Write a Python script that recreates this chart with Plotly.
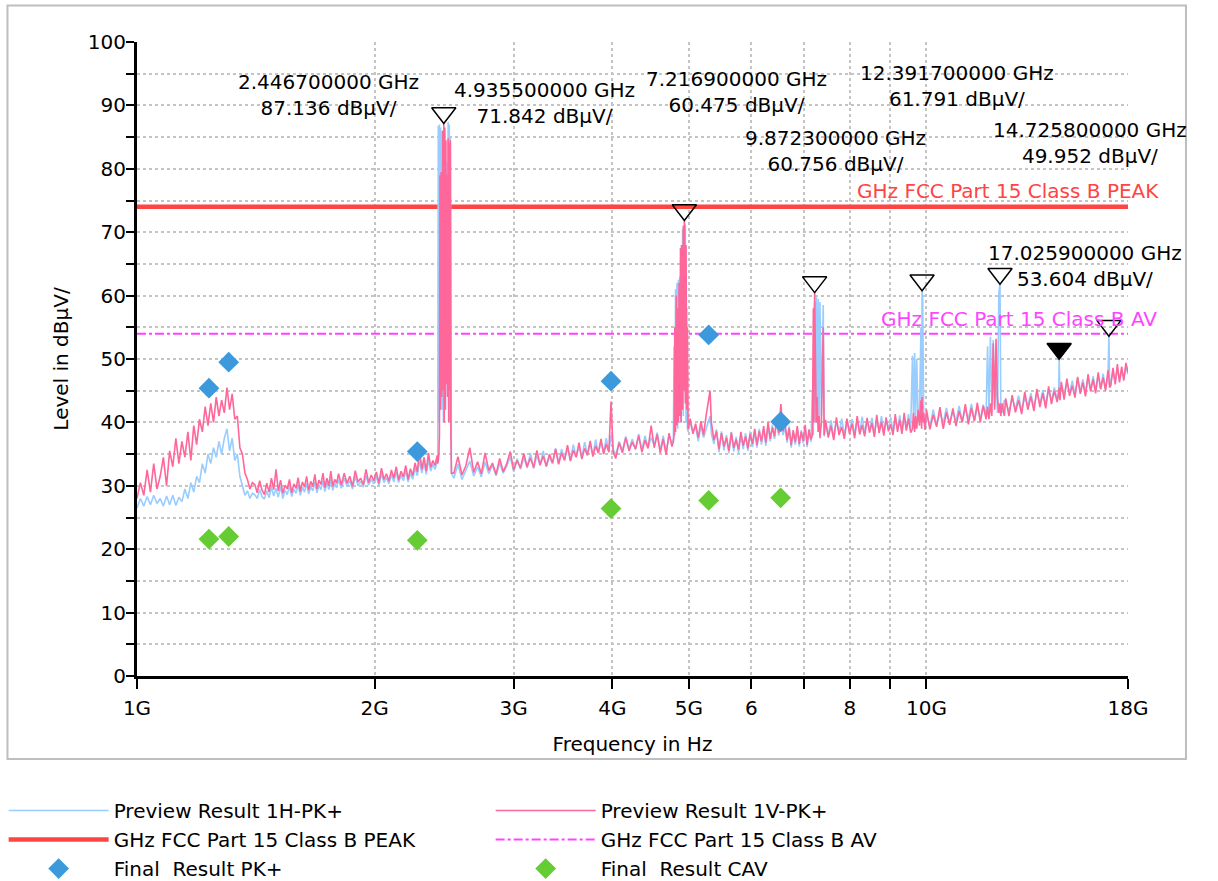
import numpy as np
import plotly.graph_objects as go

# ---------------- data ----------------
# shared sweep frequencies (GHz) for both preview traces
freq_ghz = [
    # A 1.00 - 1.40
    1.00, 1.01, 1.02, 1.03, 1.04, 1.05, 1.06, 1.07, 1.08, 1.09, 1.10, 1.11, 1.12, 1.13,
    1.14, 1.15, 1.16, 1.17, 1.18, 1.19, 1.20, 1.21, 1.22, 1.23, 1.24, 1.25, 1.26, 1.27,
    1.28, 1.29, 1.30, 1.31, 1.32, 1.33, 1.34, 1.35, 1.36, 1.37, 1.38, 1.39, 1.40,
    # B1 1.41 - 1.80
    1.41, 1.42, 1.43, 1.44, 1.45, 1.46, 1.47, 1.48, 1.49, 1.50,
    1.51, 1.52, 1.53, 1.54, 1.55, 1.56, 1.57, 1.58, 1.59, 1.60,
    1.61, 1.62, 1.63, 1.64, 1.65, 1.66, 1.67, 1.68, 1.69, 1.70,
    1.71, 1.72, 1.73, 1.74, 1.75, 1.76, 1.77, 1.78, 1.79, 1.80,
    # B2 1.815 - 2.40
    1.815, 1.830, 1.845, 1.860, 1.875, 1.890, 1.905, 1.920, 1.935, 1.950,
    1.965, 1.980, 1.995, 2.010, 2.025, 2.040, 2.055, 2.070, 2.085, 2.100,
    2.115, 2.130, 2.145, 2.160, 2.175, 2.190, 2.205, 2.220, 2.235, 2.250,
    2.265, 2.280, 2.295, 2.310, 2.325, 2.340, 2.355, 2.370, 2.385, 2.400,
    # P1 2.4 GHz carrier
    2.404, 2.408, 2.412, 2.416, 2.420, 2.424, 2.428, 2.432, 2.436, 2.440, 2.444, 2.4467,
    2.450, 2.454, 2.458, 2.462, 2.466, 2.470, 2.474, 2.478, 2.482, 2.486, 2.490, 2.494,
    2.498, 2.502,
    # C 2.52 - 4.01
    2.52, 2.55, 2.58, 2.61, 2.64, 2.67, 2.70, 2.73, 2.76, 2.79,
    2.82, 2.85, 2.88, 2.91, 2.94, 2.97, 3.00, 3.03, 3.06, 3.09,
    3.12, 3.15, 3.18, 3.21, 3.24, 3.27, 3.30, 3.33, 3.36, 3.39,
    3.42, 3.45, 3.48, 3.51, 3.54, 3.57, 3.60, 3.63, 3.66, 3.69,
    3.72, 3.75, 3.78, 3.81, 3.84, 3.87, 3.90, 3.93, 3.96, 3.985, 4.01,
    # D 4.04 - 4.76
    4.04, 4.08, 4.12, 4.16, 4.20, 4.24, 4.28, 4.32, 4.36, 4.40,
    4.44, 4.48, 4.52, 4.56, 4.60, 4.64, 4.68, 4.72, 4.76,
    # P2 2nd harmonic
    4.78, 4.79, 4.80, 4.81, 4.82, 4.83, 4.84, 4.85, 4.86, 4.87, 4.88, 4.89, 4.90, 4.91,
    4.92, 4.93, 4.9355, 4.94, 4.95, 4.96, 4.97, 4.98, 4.99,
    # E 5.02 - 7.14
    5.02, 5.06, 5.10, 5.14, 5.18, 5.22, 5.26, 5.32, 5.34, 5.38,
    5.42, 5.46, 5.50, 5.54, 5.58, 5.62, 5.66, 5.70, 5.74, 5.78,
    5.82, 5.86, 5.90, 5.94, 5.98, 6.02, 6.06, 6.10, 6.14, 6.18,
    6.22, 6.26, 6.30, 6.34, 6.38, 6.42, 6.46, 6.50, 6.54, 6.58,
    6.62, 6.66, 6.70, 6.74, 6.78, 6.82, 6.86, 6.90, 6.94, 6.98,
    7.02, 7.06, 7.10, 7.14,
    # P3 3rd harmonic
    7.17, 7.19, 7.20, 7.2169, 7.23, 7.25, 7.27, 7.29, 7.31, 7.33, 7.36, 7.40, 7.42,
    # F 7.45 - 9.55
    7.45, 7.51, 7.57, 7.63, 7.69, 7.75, 7.81, 7.87, 7.93, 7.99,
    8.05, 8.11, 8.17, 8.23, 8.29, 8.35, 8.41, 8.47, 8.53, 8.59,
    8.65, 8.71, 8.77, 8.83, 8.89, 8.95, 9.01, 9.07, 9.13, 9.19,
    9.25, 9.31, 9.37, 9.43, 9.49, 9.55,
    # P4 4th harmonic
    9.60, 9.63, 9.66, 9.69, 9.72, 9.76, 9.80, 9.84, 9.86, 9.8723, 9.89, 9.92, 9.96,
    # G 10.0 - 11.8
    10.0, 10.1, 10.2, 10.3, 10.4, 10.5, 10.6, 10.7, 10.8, 10.9,
    11.0, 11.1, 11.2, 11.3, 11.4, 11.5, 11.6, 11.7, 11.8,
    # P5 5th harmonic
    11.90, 11.95, 12.00, 12.05, 12.10, 12.15, 12.20, 12.25, 12.30, 12.35, 12.3917, 12.42,
    12.47, 12.55,
    # H 12.60 - 14.64
    12.60, 12.72, 12.84, 12.96, 13.08, 13.20, 13.32, 13.44, 13.56, 13.68,
    13.80, 13.92, 14.04, 14.16, 14.28, 14.40, 14.52, 14.64,
    # P6 6th harmonic
    14.70, 14.7258, 14.76,
    # I 14.82 - 16.98
    14.82, 14.94, 15.06, 15.18, 15.30, 15.42, 15.54, 15.66, 15.78, 15.90,
    16.02, 16.14, 16.26, 16.38, 16.50, 16.62, 16.74, 16.86, 16.98,
    # P7 7th harmonic
    17.0259, 17.06,
    # J 17.12 - 18.00
    17.12, 17.23, 17.34, 17.45, 17.56, 17.67, 17.78, 17.89, 18.00,
]

# Preview Result 1H-PK+ (dBuV)
level_h = [
    # A
    26.5, 28.0, 26.8, 28.3, 27.0, 28.5, 27.2, 28.0, 26.8, 28.4, 27.0, 28.5, 26.9, 28.2,
    27.5, 29.5, 28.0, 30.5, 29.0, 31.5, 30.5, 33.5, 32.0, 35.0, 33.5, 36.0, 34.5, 37.0,
    35.0, 37.5, 39.0, 35.5, 37.5, 34.0, 35.0, 31.5, 30.0, 28.5, 29.2, 28.0, 28.8,
    # B1
    28.6, 28.0, 29.4, 28.3, 27.9, 29.2, 28.1, 29.8, 28.4, 29.6,
    28.2, 29.9, 28.0, 29.3, 28.6, 30.0, 28.3, 29.5, 28.8, 30.2,
    28.5, 29.8, 29.0, 30.4, 28.7, 29.9, 29.2, 30.6, 28.9, 30.1,
    29.4, 30.8, 29.1, 30.5, 29.4, 31.0, 29.3, 30.4, 29.7, 31.0,
    # B2
    29.6, 31.2, 29.9, 30.8, 29.5, 31.5, 30.0, 30.7, 29.8, 31.6,
    30.1, 31.0, 30.3, 31.5, 30.0, 31.9, 30.5, 31.3, 30.3, 31.8,
    30.6, 32.2, 30.5, 31.7, 30.8, 32.4, 30.6, 32.0, 31.0, 32.8,
    31.6, 34.0, 32.0, 33.6, 31.8, 34.2, 32.3, 33.4, 32.6, 33.8,
    # P1
    34.0, 86.8, 40.0, 87.0, 45.0, 86.5, 50.0, 86.0, 42.0, 80.0, 40.0, 78.0,
    45.0, 79.0, 42.0, 80.0, 48.0, 81.0, 44.0, 87.4, 42.0, 87.0, 40.0, 85.0,
    34.0, 32.0,
    # C
    31.2, 33.4, 31.0, 32.6, 33.9, 31.5, 33.0, 31.4, 33.8, 31.9,
    33.2, 31.6, 33.6, 32.0, 33.1, 34.6, 32.2, 34.3, 32.6, 34.5,
    32.8, 35.2, 32.7, 34.8, 33.2, 35.5, 33.0, 34.6, 33.5, 35.9,
    33.6, 35.8, 34.1, 36.0, 34.0, 36.5, 34.6, 36.2, 34.4, 36.9,
    35.0, 36.7, 34.8, 37.3, 35.1, 36.9, 35.2, 37.5, 35.4, 38.0, 35.8,
    # D
    34.8, 37.0, 35.6, 37.8, 35.8, 37.4, 35.7, 38.2, 35.6, 37.9,
    36.1, 37.6, 36.4, 38.4, 35.6, 37.9, 35.2, 38.0, 36.5,
    # P2
    37.5, 52.0, 38.0, 61.0, 40.0, 62.0, 39.0, 62.5, 42.0, 63.0, 40.0, 68.0, 42.0, 70.5,
    41.0, 71.0, 70.5, 45.0, 71.2, 40.0, 58.0, 39.0, 38.5,
    # E
    40.0, 38.6, 39.3, 37.0, 39.5, 37.6, 39.0, 41.0, 38.2, 36.6,
    38.9, 35.3, 38.6, 35.6, 38.0, 35.1, 38.5, 35.4, 37.7, 35.2,
    38.0, 35.8, 38.3, 35.5, 38.6, 36.1, 38.5, 36.0, 39.0, 36.5,
    39.0, 36.3, 39.6, 37.0, 39.6, 37.4, 40.0, 37.9, 41.0, 38.0,
    39.2, 36.8, 39.4, 36.0, 38.4, 36.5, 39.0, 36.2, 38.8, 36.7,
    39.1, 36.1, 38.6, 36.9,
    # P3
    45.0, 38.0, 56.0, 59.0, 40.0, 59.8, 42.0, 59.5, 40.0, 59.0, 41.0, 58.5, 37.8,
    # F
    39.9, 38.0, 40.3, 37.6, 40.1, 38.4, 40.6, 37.9, 40.2, 38.7,
    40.5, 38.0, 40.4, 38.5, 40.9, 38.2, 40.3, 38.8, 40.7, 38.1,
    40.5, 38.7, 41.0, 38.3, 40.4, 38.9, 40.8, 38.4, 40.6, 38.9,
    41.1, 38.6, 40.7, 39.0, 41.3, 38.8,
    # P4
    50.5, 40.0, 51.0, 41.0, 50.0, 40.0, 42.0, 55.0, 41.0, 60.756, 59.5, 40.5, 39.0,
    # G
    41.1, 39.4, 42.0, 39.6, 41.5, 39.9, 42.3, 39.8, 41.7, 40.2,
    42.6, 40.1, 42.2, 40.5, 42.9, 40.3, 42.4, 40.6, 42.8,
    # P5
    41.0, 52.0, 42.0, 53.5, 43.0, 53.0, 42.5, 48.0, 41.5, 60.5, 61.791, 43.0,
    41.5, 43.5,
    # H
    43.2, 41.7, 43.9, 42.0, 44.2, 41.9, 44.0, 42.5, 44.6, 42.3,
    44.8, 42.9, 45.1, 42.8, 45.2, 43.3, 45.5, 43.6,
    # P6
    44.0, 49.952, 44.5,
    # I
    45.8, 44.1, 46.4, 44.6, 46.6, 44.3, 46.9, 44.9, 46.8, 44.7,
    47.1, 45.1, 47.3, 45.0, 47.4, 45.4, 47.7, 45.3, 47.5,
    # P7
    53.604, 46.0,
    # J
    46.3, 48.1, 46.4, 48.5, 46.6, 48.3, 46.9, 48.7, 47.6,
]

# Preview Result 1V-PK+ (dBuV)
level_v = [
    # A
    28.0, 30.5, 28.5, 32.5, 29.0, 33.5, 29.5, 31.5, 34.5, 30.0, 35.5, 33.0, 37.5, 33.5,
    37.0, 34.5, 38.5, 34.0, 39.5, 36.5, 40.5, 38.5, 42.5, 39.5, 43.0, 40.0, 44.0, 41.0,
    43.5, 41.5, 45.5, 42.0, 44.5, 40.5, 41.0, 36.0, 35.0, 32.0, 31.0, 29.5, 30.5,
    # B1
    30.2, 28.9, 30.8, 29.3, 28.6, 30.4, 29.0, 31.2, 29.4, 32.6,
    29.2, 30.9, 28.8, 30.1, 29.5, 31.0, 28.9, 30.3, 29.6, 31.3,
    29.1, 30.6, 29.8, 31.5, 29.3, 30.7, 29.9, 31.8, 29.5, 30.9,
    30.2, 32.0, 29.7, 31.2, 30.0, 32.3, 29.9, 31.0, 30.4, 31.9,
    # B2
    30.1, 32.0, 30.4, 31.5, 29.9, 32.4, 30.6, 31.2, 30.2, 32.6,
    30.5, 31.7, 30.8, 32.2, 30.4, 32.8, 31.0, 31.9, 30.7, 32.5,
    31.2, 33.0, 30.9, 32.3, 31.4, 33.2, 31.0, 32.7, 31.6, 33.6,
    32.2, 35.6, 32.6, 34.5, 32.3, 35.2, 32.9, 34.0, 33.2, 34.8,
    # P1
    33.5, 34.0, 35.0, 38.0, 79.0, 42.0, 79.5, 44.0, 80.0, 86.0, 45.0, 87.136,
    40.0, 86.5, 42.0, 84.5, 46.0, 79.0, 44.0, 84.8, 40.0, 84.0, 45.0, 84.5,
    38.0, 32.0,
    # C
    32.0, 34.6, 31.7, 33.2, 36.0, 32.1, 33.8, 31.9, 35.2, 32.4,
    33.6, 31.8, 34.3, 32.2, 33.5, 35.4, 32.5, 34.0, 32.8, 35.1,
    33.0, 34.4, 32.9, 35.6, 33.3, 34.7, 33.1, 35.0, 33.6, 35.8,
    33.4, 35.2, 34.0, 36.4, 33.9, 35.6, 34.5, 36.8, 34.2, 35.9,
    34.8, 37.1, 34.6, 36.3, 35.2, 37.4, 35.0, 36.6, 35.3, 43.3, 35.4,
    # D
    34.3, 36.8, 35.2, 37.6, 35.5, 36.9, 35.8, 37.9, 35.3, 37.2,
    35.9, 39.5, 36.0, 38.1, 35.2, 37.4, 34.9, 38.3, 36.2,
    # P2
    37.0, 38.0, 55.0, 38.5, 60.0, 39.5, 58.0, 40.0, 62.0, 41.0, 67.5, 40.0, 68.0, 42.0,
    71.0, 45.0, 71.842, 70.5, 43.0, 68.0, 42.0, 55.0, 39.0,
    # E
    40.6, 38.2, 39.8, 37.6, 40.2, 38.0, 41.2, 45.0, 40.0, 37.2,
    38.6, 35.8, 38.3, 36.2, 37.6, 35.5, 38.4, 36.0, 37.3, 35.7,
    38.5, 36.3, 37.8, 35.9, 38.2, 36.6, 39.0, 36.4, 38.6, 37.0,
    39.4, 36.8, 40.0, 37.4, 39.2, 37.8, 40.6, 38.3, 42.9, 38.6,
    39.8, 37.2, 39.1, 36.4, 38.8, 36.9, 39.4, 36.6, 38.5, 37.1,
    39.6, 36.5, 38.9, 37.3,
    # P3
    38.0, 58.0, 40.0, 60.475, 55.0, 40.0, 44.0, 38.5, 41.0, 37.5, 40.0, 55.0, 38.0,
    # F
    40.4, 37.6, 39.5, 37.2, 40.8, 38.0, 39.3, 37.4, 40.6, 38.2,
    39.8, 37.5, 41.0, 38.1, 39.6, 37.8, 40.7, 38.4, 39.9, 37.7,
    41.2, 38.3, 40.1, 37.9, 40.8, 38.6, 39.7, 38.0, 41.3, 38.5,
    40.4, 38.2, 41.5, 38.7, 40.6, 38.4,
    # P4
    39.0, 41.5, 38.5, 41.0, 39.0, 42.0, 39.5, 43.5, 39.0, 44.0, 40.0, 41.5, 38.8,
    # G
    42.0, 38.9, 41.2, 39.3, 42.4, 39.0, 41.6, 39.6, 42.2, 39.4,
    41.8, 40.0, 42.9, 39.7, 42.3, 40.2, 43.1, 40.0, 42.6,
    # P5
    40.5, 42.5, 40.5, 43.0, 41.0, 52.5, 42.0, 53.2, 44.0, 41.5, 43.0, 41.0,
    43.0, 41.0,
    # H
    43.8, 41.0, 44.3, 41.6, 43.5, 41.3, 44.8, 42.0, 44.1, 41.8,
    45.3, 42.4, 44.6, 42.2, 45.7, 42.9, 45.0, 43.2,
    # P6
    44.5, 45.5, 43.5,
    # I
    46.4, 43.6, 46.9, 44.2, 45.8, 43.9, 47.2, 44.5, 46.3, 44.1,
    47.6, 44.9, 46.8, 44.6, 47.9, 45.2, 47.1, 45.0, 48.2,
    # P7
    47.0, 45.5,
    # J
    45.8, 48.6, 46.0, 49.2, 46.3, 48.8, 46.6, 49.4, 47.9,
]

# marker peaks (GHz, dBuV)
peak_freq_ghz = [2.4467, 4.9355, 7.2169, 9.8723, 12.3917, 14.7258, 17.0259]
peak_level = [87.136, 71.842, 60.475, 60.756, 61.791, 49.952, 53.604]
active_peak = 5

# final measurements
final_freq_ghz = [1.2335, 1.3066, 2.2648, 3.9846, 5.2982, 6.5362]
final_pk_level = [45.4, 49.5, 35.4, 46.5, 53.8, 40.1]
final_cav_level = [21.6, 22.0, 21.4, 26.4, 27.7, 28.1]

# limits
limit_peak = 74.0
limit_av = 54.0
freq_span_ghz = [1.0, 18.0]

x_tick_vals = [1, 2, 3, 4, 5, 6, 7, 8, 9, 10, 18]
x_tick_text = ["1G", "2G", "3G", "4G", "5G", "6", "", "8", "", "10G", "18G"]

assert len(freq_ghz) == len(level_h) == len(level_v)
assert all(a < b for a, b in zip(freq_ghz, freq_ghz[1:]))

# ---------------- styling / layout ----------------
FONT = "DejaVu Sans"
BLUE = "#99CCFF"
PINK = "#FF6699"
RED = "#FF4444"
MAGENTA = "#FF44FF"
GRID = "#C4C4C4"

# label offsets for marker annotations (px, relative to the marker point)
label_dx = [-115, -140, -78, -87, -43, 31, -24]
label_dy = [29, 118, 201, 140, 198, 216, 70]

fig = go.Figure()

fig.add_trace(go.Scatter(
    x=freq_span_ghz, y=[limit_peak] * 2, mode="lines",
    name="GHz FCC Part 15 Class B PEAK", line=dict(color=RED, width=4.5),
    legendrank=3))
fig.add_trace(go.Scatter(
    x=freq_span_ghz, y=[limit_av] * 2, mode="lines",
    name="GHz FCC Part 15 Class B AV", line=dict(color=MAGENTA, width=2, dash="dashdot"),
    legendrank=4))
fig.add_trace(go.Scatter(
    x=freq_ghz, y=level_h, mode="lines", name="Preview Result 1H-PK+",
    line=dict(color=BLUE, width=1.6), legendrank=1))
fig.add_trace(go.Scatter(
    x=freq_ghz, y=level_v, mode="lines", name="Preview Result 1V-PK+",
    line=dict(color=PINK, width=1.6), legendrank=2))
fig.add_trace(go.Scatter(
    x=final_freq_ghz, y=final_pk_level, mode="markers", name="Final  Result PK+",
    marker=dict(symbol="diamond", size=16, color="#3C9ADC"), legendrank=5))
fig.add_trace(go.Scatter(
    x=final_freq_ghz, y=final_cav_level, mode="markers", name="Final  Result CAV",
    marker=dict(symbol="diamond", size=16, color="#66CC33"), legendrank=6))

# peak markers (downward triangles whose tip touches the peak)
symbols = ["triangle-up" if i == active_peak else "triangle-up-open"
           for i in range(len(peak_freq_ghz))]
fig.add_trace(go.Scatter(
    x=peak_freq_ghz, y=peak_level, mode="markers", showlegend=False,
    marker=dict(symbol=symbols, size=21, color="black", angle=180, standoff=10.5,
                line=dict(color="black", width=1.5))))

for f, lv, dx, dy in zip(peak_freq_ghz, peak_level, label_dx, label_dy):
    fig.add_annotation(
        x=np.log10(f), y=lv, xref="x", yref="y", showarrow=False,
        text=f"{f:.9f} GHz<br>{lv:.3f} dBµV/", align="center",
        xshift=dx, yshift=dy, font=dict(family=FONT, size=20, color="black"))

fig.add_annotation(x=1, y=limit_peak, xref="paper", yref="y", showarrow=False,
                   xanchor="right", yanchor="bottom", xshift=33, yshift=2,
                   text="GHz FCC Part 15 Class B PEAK",
                   font=dict(family=FONT, size=20, color=RED))
fig.add_annotation(x=1, y=limit_av, xref="paper", yref="y", showarrow=False,
                   xanchor="right", yanchor="bottom", xshift=31, yshift=1,
                   text="GHz FCC Part 15 Class B AV",
                   font=dict(family=FONT, size=20, color=MAGENTA))

# outer frame
fig.add_shape(type="rect", xref="paper", yref="paper",
              x0=-0.1307, x1=1.0585, y0=-0.1309, y1=1.0576,
              line=dict(color="#BEBEBE", width=2), layer="below")

xr = [0, np.log10(18)]
fig.update_layout(
    width=1218, height=881,
    margin=dict(l=137, r=90, t=42, b=205),
    paper_bgcolor="white", plot_bgcolor="white",
    font=dict(family=FONT, size=20, color="black"),
    showlegend=True,
    legend=dict(orientation="h", xref="container", yref="container",
                x=0.003, y=0.1021, xanchor="left", yanchor="top",
                entrywidth=372, entrywidthmode="pixels", itemwidth=100,
                font=dict(family=FONT, size=20, color="black"),
                bgcolor="rgba(0,0,0,0)"),
    xaxis=dict(type="log", range=xr, tickvals=x_tick_vals, ticktext=x_tick_text,
               ticks="outside", ticklen=10, tickwidth=2, tickcolor="black",
               showline=True, linewidth=3, linecolor="black", mirror=False,
               showgrid=True, gridcolor=GRID, griddash="dot", gridwidth=1.5,
               zeroline=False, ticklabelstandoff=2,
               title=dict(text="Frequency in Hz", standoff=18,
                          font=dict(family=FONT, size=20))),
    yaxis=dict(range=[0, 100], tick0=0, dtick=10,
               ticks="outside", ticklen=8, tickwidth=2, tickcolor="black",
               showline=True, linewidth=3, linecolor="black",
               showgrid=True, gridcolor=GRID, griddash="dot", gridwidth=1.5,
               zeroline=False, ticklabelstandoff=-4,
               minor=dict(dtick=5, ticks="outside", ticklen=8, tickwidth=2,
                          tickcolor="black", showgrid=True, gridcolor=GRID,
                          griddash="dot", gridwidth=1.5),
               title=dict(text="Level in dBµV/", standoff=14,
                          font=dict(family=FONT, size=20))),
    xaxis2=dict(type="log", range=xr, overlaying="x", anchor="y", side="bottom",
                tickvals=x_tick_vals, ticks="inside", ticklen=6, tickwidth=2,
                tickcolor="black", showticklabels=False, showgrid=False,
                showline=False, zeroline=False),
    yaxis2=dict(range=[0, 100], overlaying="y", anchor="x", side="left",
                tick0=0, dtick=10, ticks="inside", ticklen=7, tickwidth=2,
                tickcolor="black", showticklabels=False, showgrid=False,
                showline=False, zeroline=False,
                minor=dict(dtick=5, ticks="inside", ticklen=7, tickwidth=2,
                           tickcolor="black", showgrid=False)),
)

# the page is photographed edge to edge: drop the browser's default body margin
fig.write_html("out.html",
               config={"displayModeBar": False},
               post_script="document.body.style.margin='0';"
                           "document.body.style.overflow='hidden';")
